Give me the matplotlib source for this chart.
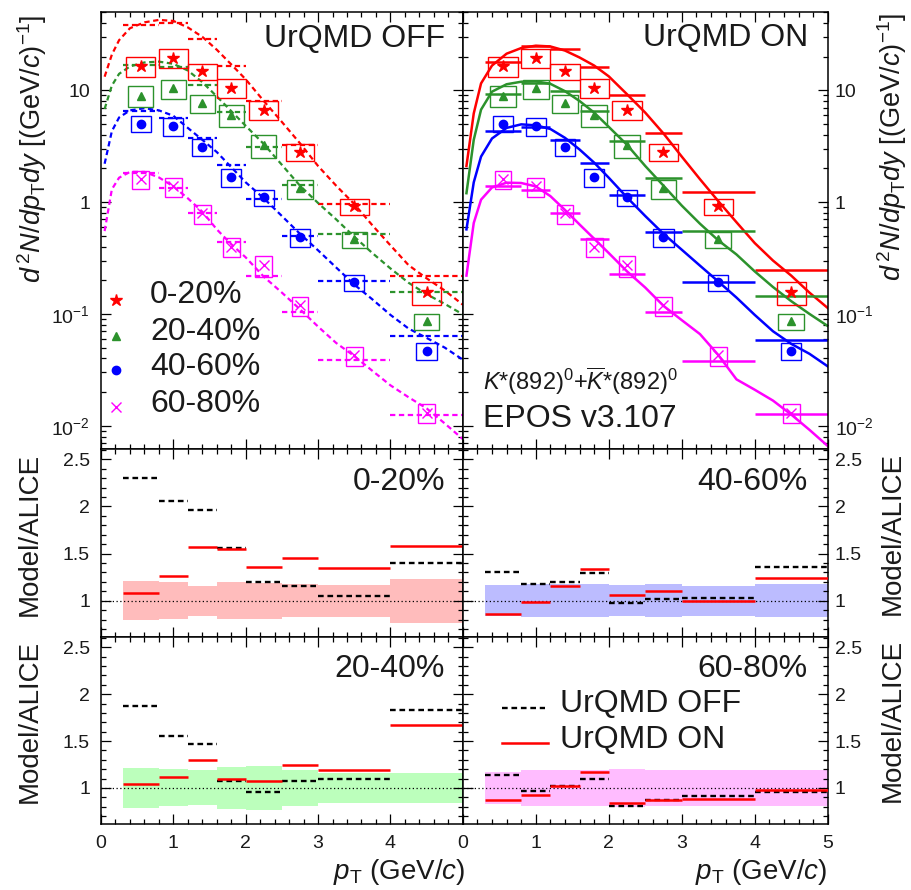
import numpy as np
import matplotlib
matplotlib.use("Agg")
import matplotlib.pyplot as plt
from matplotlib.ticker import FixedLocator, FixedFormatter, MultipleLocator, NullFormatter

plt.rcParams['font.family'] = ['Liberation Sans', 'DejaVu Sans']
plt.rcParams['mathtext.fontset'] = 'custom'
plt.rcParams['mathtext.rm'] = 'Liberation Sans'
plt.rcParams['mathtext.it'] = 'Liberation Sans:italic'
plt.rcParams['mathtext.bf'] = 'Liberation Sans:bold'
plt.rcParams['mathtext.sf'] = 'Liberation Sans'

# ---------------- data ----------------
bin_lo = [0.3, 0.8, 1.2, 1.6, 2.0, 2.5, 3.0, 4.0]
bin_hi = [0.8, 1.2, 1.6, 2.0, 2.5, 3.0, 4.0, 5.0]
pt_data = [0.55, 1.0, 1.4, 1.8, 2.25, 2.75, 3.5, 4.5]
centralities = ['0-20%', '20-40%', '40-60%', '60-80%']

# measured K*0 yields
yield_0_20 = [16.5, 19.5, 14.7, 10.5, 6.67, 2.83, 0.914, 0.157]
yield_20_40 = [8.95, 10.4, 7.66, 6.02, 3.23, 1.33, 0.467, 0.0859]
yield_40_60 = [5.03, 4.77, 3.12, 1.66, 1.10, 0.487, 0.191, 0.047]
yield_60_80 = [1.60, 1.38, 0.791, 0.399, 0.272, 0.119, 0.0427, 0.0131]

# relative uncertainty of the measurement
unc_0_20 = [0.205, 0.195, 0.16, 0.195, 0.19, 0.175, 0.17, 0.235]
unc_20_40 = [0.214, 0.197, 0.186, 0.22, 0.236, 0.193, 0.163, 0.163]
unc_40_60 = [0.163, 0.178, 0.178, 0.178, 0.165, 0.178, 0.16, 0.173]
unc_60_80 = [0.175, 0.193, 0.193, 0.193, 0.207, 0.193, 0.193, 0.196]

# EPOS / ALICE ratios (UrQMD off and on)
ratio_off_0_20 = [2.304, 2.057, 1.958, 1.562, 1.194, 1.155, 1.049, 1.396]
ratio_on_0_20 = [1.081, 1.265, 1.572, 1.544, 1.360, 1.452, 1.346, 1.583]
ratio_off_20_40 = [1.875, 1.554, 1.464, 1.071, 0.961, 1.075, 1.100, 1.832]
ratio_on_20_40 = [1.043, 1.121, 1.296, 1.093, 1.079, 1.243, 1.186, 1.671]
ratio_off_40_60 = [1.300, 1.180, 1.201, 1.290, 0.975, 1.021, 1.025, 1.357]
ratio_on_40_60 = [0.862, 0.986, 1.155, 1.336, 1.057, 1.106, 1.000, 1.244]
ratio_off_60_80 = [1.136, 0.964, 1.018, 1.093, 0.804, 0.868, 0.911, 0.957]
ratio_on_60_80 = [0.868, 0.925, 1.018, 1.171, 0.836, 0.871, 0.886, 0.982]

# EPOS spectra (fine binning)
pt_model = [0.05, 0.15, 0.25, 0.4, 0.6, 0.8, 1.0, 1.2, 1.4, 1.6, 1.8, 2.0,
            2.25, 2.5, 2.75, 3.0, 3.25, 3.5, 3.75, 4.0, 4.25, 4.5, 4.75, 5.0]
off_0_20 = [13.2, 20.8, 28.0, 35.8, 40.4, 42.5, 41.6, 36.4, 30.0, 23.0, 17.0, 12.5,
            8.0, 5.2, 3.35, 2.1, 1.40, 0.96, 0.62, 0.41, 0.273, 0.208, 0.162, 0.121]
off_20_40 = [6.8, 11.0, 14.0, 16.3, 17.7, 18.0, 17.2, 15.0, 11.8, 8.8, 6.5, 4.8,
             3.3, 2.15, 1.4, 0.98, 0.70, 0.49, 0.35, 0.255, 0.19, 0.15, 0.123, 0.099]
off_40_60 = [2.2, 4.3, 5.7, 6.6, 6.9, 6.6, 5.9, 4.6, 3.6, 2.8, 2.05, 1.5,
             1.08, 0.75, 0.52, 0.37, 0.26, 0.183, 0.135, 0.098, 0.074, 0.061, 0.05, 0.039]
off_60_80 = [0.55, 1.3, 1.65, 1.86, 1.86, 1.66, 1.38, 1.08, 0.82, 0.57, 0.42, 0.32,
             0.215, 0.155, 0.11, 0.077, 0.055, 0.042, 0.031, 0.023, 0.018, 0.0143, 0.0105, 0.0076]
on_0_20 = [2.1, 6.2, 11.5, 16.6, 21.2, 23.8, 25.0, 24.6, 22.6, 19.6, 16.6, 13.3,
           9.2, 6.3, 4.1, 2.55, 1.6, 1.02, 0.66, 0.43, 0.30, 0.22, 0.155, 0.113]
on_20_40 = [1.2, 3.6, 6.7, 9.7, 11.3, 11.9, 12.0, 11.4, 9.8, 8.0, 6.3, 4.7,
            3.25, 2.1, 1.4, 0.93, 0.64, 0.455, 0.34, 0.24, 0.174, 0.13, 0.10, 0.078]
on_40_60 = [0.57, 1.5, 2.55, 3.7, 4.6, 4.95, 4.85, 4.5, 3.75, 2.95, 2.25, 1.65,
            1.1, 0.75, 0.52, 0.375, 0.27, 0.195, 0.14, 0.098, 0.07, 0.054, 0.044, 0.034]
on_60_80 = [0.22, 0.65, 1.05, 1.35, 1.49, 1.48, 1.38, 1.13, 0.85, 0.63, 0.47, 0.35,
            0.24, 0.172, 0.118, 0.088, 0.066, 0.043, 0.026, 0.021, 0.0168, 0.0126, 0.0092, 0.0066]

yields = [yield_0_20, yield_20_40, yield_40_60, yield_60_80]
uncs = [unc_0_20, unc_20_40, unc_40_60, unc_60_80]
ratios_off = [ratio_off_0_20, ratio_off_20_40, ratio_off_40_60, ratio_off_60_80]
ratios_on = [ratio_on_0_20, ratio_on_20_40, ratio_on_40_60, ratio_on_60_80]
curves_off = [off_0_20, off_20_40, off_40_60, off_60_80]
curves_on = [on_0_20, on_20_40, on_40_60, on_60_80]

# ---------------- style ----------------
colors = ['#ff0000', '#2c922c', '#0000ff', '#ff00ff']
band_colors = ['#ffbcbc', '#bcffbc', '#bcbcff', '#ffbcff']
markers = ['*', '^', 'o', 'x']
msizes = [9, 6, 6, 6.5]
box_w = [0.40, 0.35, 0.28, 0.23]
txt_col = '#1a1a1a'
DASH = (0, (2.4, 1.6))

fig = plt.figure(figsize=(9.11, 8.9), dpi=100)
W = 911.0
H = 890.0
xL0, xL1, xR1 = 101.0, 462.8, 827.7
yT0, yT1, yR1, yR2 = 12.0, 449.0, 637.0, 824.0


def make_ax(x0, x1, y0, y1):
    return fig.add_axes([x0 / W, 1 - y1 / H, (x1 - x0) / W, (y1 - y0) / H])


ax_off = make_ax(xL0, xL1, yT0, yT1)
ax_on = make_ax(xL1, xR1, yT0, yT1)
ax_r1 = make_ax(xL0, xL1, yT1, yR1)
ax_r2 = make_ax(xL1, xR1, yT1, yR1)
ax_r3 = make_ax(xL0, xL1, yR1, yR2)
ax_r4 = make_ax(xL1, xR1, yR1, yR2)

for ax in [ax_off, ax_on, ax_r1, ax_r2, ax_r3, ax_r4]:
    ax.set_xlim(0, 5)
    for s in ax.spines.values():
        s.set_linewidth(1.1)
    ax.xaxis.set_major_locator(FixedLocator([0, 1, 2, 3, 4, 5]))
    ax.xaxis.set_minor_locator(FixedLocator([k * 0.2 for k in range(26)]))
    ax.tick_params(which='both', direction='in', top=True, right=True,
                   width=0.9, labelsize=14, colors='black', labelcolor=txt_col)
    ax.tick_params(which='major', length=7)
    ax.tick_params(which='minor', length=3.6)
    ax.tick_params(axis='x', pad=8)
    ax.tick_params(labelbottom=False, labelleft=False)

# ---------------- spectra panels ----------------
for ax in [ax_off, ax_on]:
    ax.set_yscale('log')
    ax.set_ylim(0.0062, 50)
    ax.yaxis.set_major_locator(FixedLocator([0.01, 0.1, 1, 10]))
    ax.yaxis.set_major_formatter(FixedFormatter([r'$10^{-2}$', r'$10^{-1}$', '1', '10']))
    ax.yaxis.set_minor_locator(FixedLocator(
        [m * 10.0 ** e for e in range(-3, 2) for m in range(2, 10)]))
    ax.yaxis.set_minor_formatter(NullFormatter())

ax_off.tick_params(axis='y', labelleft=True, pad=8)
ax_on.tick_params(axis='y', labelleft=False, labelright=True, pad=5)

for i in range(4):
    y = np.array(yields[i])
    u = np.array(uncs[i])
    h_off = y * np.array(ratios_off[i])
    h_on = y * np.array(ratios_on[i])
    for ax in [ax_off, ax_on]:
        ax.bar(pt_data, 2 * u * y, width=box_w[i], bottom=y * (1 - u),
               fill=False, edgecolor=colors[i], linewidth=1.0, zorder=3)
        ax.plot(pt_data, y, ls='none', marker=markers[i], ms=msizes[i],
                color=colors[i], mew=1.0, zorder=4)
    ax_off.hlines(h_off, bin_lo, bin_hi, colors=colors[i], linestyles=[DASH],
                  linewidth=1.6, zorder=2)
    ax_off.plot(pt_model, curves_off[i], color=colors[i], ls=DASH, lw=1.6, zorder=2)
    ax_on.hlines(h_on, bin_lo, bin_hi, colors=colors[i], linewidth=1.8, zorder=2)
    ax_on.plot(pt_model, curves_on[i], color=colors[i], lw=1.8, zorder=2)

ax_off.text(0.951, 0.9206, 'UrQMD OFF', transform=ax_off.transAxes, ha='right',
            va='baseline', fontsize=23, color=txt_col)
ax_on.text(0.946, 0.922, 'UrQMD ON', transform=ax_on.transAxes, ha='right',
           va='baseline', fontsize=23, color=txt_col)
ax_on.text(0.0554, 0.135, r'$K$*(892)$^{0}$+$\overline{K}$*(892)$^{0}$',
           transform=ax_on.transAxes, ha='left', va='baseline', fontsize=17, color=txt_col)
ax_on.text(0.0554, 0.0497, 'EPOS v3.107', transform=ax_on.transAxes, ha='left',
           va='baseline', fontsize=23, color=txt_col)

leg_marker_y = [0.341, 0.2586, 0.1808, 0.0968]
leg_text_y = [0.3334, 0.2494, 0.1693, 0.0854]
for i in range(4):
    ax_off.plot([0.0415], [leg_marker_y[i]], transform=ax_off.transAxes, ls='none',
                marker=markers[i], ms=msizes[i], color=colors[i], mew=1.0)
    ax_off.text(0.1354, leg_text_y[i], centralities[i], transform=ax_off.transAxes,
                ha='left', va='baseline', fontsize=23, color=txt_col)

# ---------------- ratio panels ----------------
ratio_axes = [ax_r1, ax_r3, ax_r2, ax_r4]   # 0-20, 20-40, 40-60, 60-80
bin_w = np.array(bin_hi) - np.array(bin_lo)
for i, ax in enumerate(ratio_axes):
    ax.set_ylim(0.615, 2.61)
    ax.yaxis.set_major_locator(FixedLocator([1, 1.5, 2, 2.5]))
    ax.yaxis.set_major_formatter(FixedFormatter(['1', '1.5', '2', '2.5']))
    ax.yaxis.set_minor_locator(FixedLocator([0.7 + 0.1 * k for k in range(20)]))
    u = np.array(uncs[i])
    ax.bar(bin_lo, 2 * u, width=bin_w, bottom=1 - u, align='edge',
           color=band_colors[i], linewidth=0, zorder=1)
    ax.axhline(1, color='black', lw=0.9, ls=(0, (1, 2)), zorder=2)
    ax.hlines(ratios_off[i], bin_lo, bin_hi, colors='black', linestyles=[DASH],
              linewidth=1.7, zorder=3)
    ax.hlines(ratios_on[i], bin_lo, bin_hi, colors='#ff0000', linewidth=1.8, zorder=4)

ax_r1.text(0.951, 0.782, centralities[0], transform=ax_r1.transAxes, ha='right',
           va='baseline', fontsize=23, color=txt_col)
ax_r2.text(0.946, 0.782, centralities[2], transform=ax_r2.transAxes, ha='right',
           va='baseline', fontsize=23, color=txt_col)
ax_r3.text(0.951, 0.788, centralities[1], transform=ax_r3.transAxes, ha='right',
           va='baseline', fontsize=23, color=txt_col)
ax_r4.text(0.946, 0.788, centralities[3], transform=ax_r4.transAxes, ha='right',
           va='baseline', fontsize=23, color=txt_col)

# model legend
ax_r4.plot([0.107, 0.225], [0.622, 0.622], transform=ax_r4.transAxes, color='black',
           ls=DASH, lw=1.7)
ax_r4.plot([0.107, 0.234], [0.4316, 0.4316], transform=ax_r4.transAxes, color='#ff0000',
           lw=1.8)
ax_r4.text(0.2664, 0.6005, 'UrQMD OFF', transform=ax_r4.transAxes, ha='left',
           va='baseline', fontsize=23, color=txt_col)
ax_r4.text(0.2664, 0.405, 'UrQMD ON', transform=ax_r4.transAxes, ha='left',
           va='baseline', fontsize=23, color=txt_col)

for ax in [ax_r1, ax_r3]:
    ax.tick_params(axis='y', labelleft=True, pad=8)
for ax in [ax_r2, ax_r4]:
    ax.tick_params(axis='y', labelleft=False, labelright=True, pad=5)

ax_r3.tick_params(axis='x', labelbottom=True)
ax_r3.xaxis.set_major_formatter(FixedFormatter(['0', '1', '2', '3', '4', '']))
ax_r4.tick_params(axis='x', labelbottom=True)
ax_r4.xaxis.set_major_formatter(FixedFormatter(['0', '1', '2', '3', '4', '5']))

# ---------------- axis titles ----------------
ylab = r'$d^{\,2}N/dp_{\rm T}dy$ [(GeV/$c$)$^{-1}$]'
fig.text(32 / W, 1 - 15 / H, ylab, rotation=90, ha='center', va='top',
         fontsize=19.5, color=txt_col)
fig.text(892 / W, 1 - 13 / H, ylab, rotation=90, ha='center', va='top',
         fontsize=19.5, color=txt_col)
for ytop in [453, 640]:
    fig.text(30 / W, 1 - ytop / H, 'Model/ALICE', rotation=90, ha='center', va='top',
             fontsize=20, color=txt_col)
    fig.text(893 / W, 1 - (ytop - 1) / H, 'Model/ALICE', rotation=90, ha='center',
             va='top', fontsize=20, color=txt_col)
xlab = r'$p_{\rm T}$ (GeV/$c$)'
fig.text(465 / W, 0.012, xlab, ha='right', va='baseline', fontsize=20, color=txt_col)
fig.text(827 / W, 0.012, xlab, ha='right', va='baseline', fontsize=20, color=txt_col)

fig.savefig('out.png', dpi=100)
